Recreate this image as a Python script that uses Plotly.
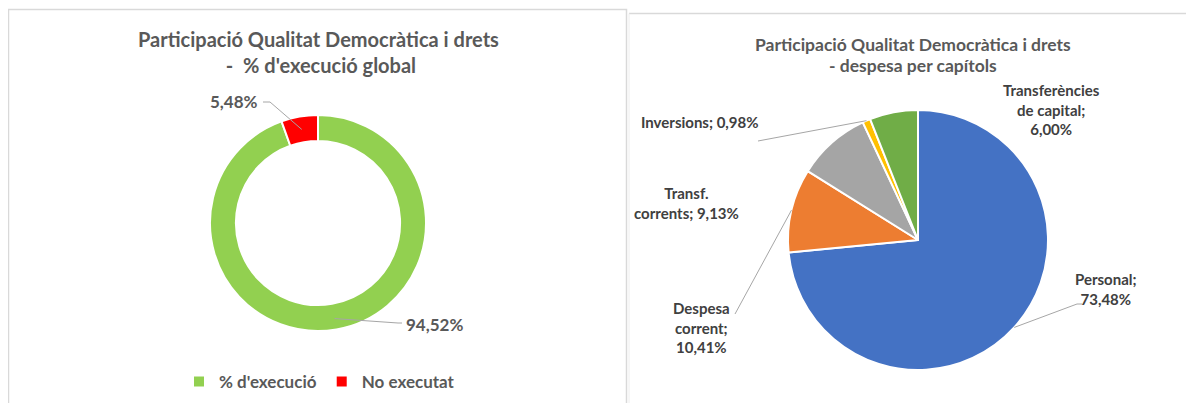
import numpy as np
import plotly.graph_objects as go

W, H = 1194, 403
OFF = 8  # marge del body de la pàgina
FW, FH = W - OFF, H - OFF

# dades gràfic 1 (execució global)
exec_labels = ["% d'execució", "No executat"]
exec_values = [94.52, 5.48]
exec_colors = ["#92D050", "#FF0000"]

# dades gràfic 2 (despesa per capítols)
cap_labels = ["Personal", "Despesa corrent", "Transf. corrents", "Inversions", "Transferències de capital"]
cap_values = [73.48, 10.41, 9.13, 0.98, 6.00]
cap_colors = ["#4472C4", "#ED7D31", "#A5A5A5", "#FFC000", "#70AD47"]


def fmt(v):
    return f"{v:.2f}".replace(".", ",") + "%"


def px(x, y):
    return (x - OFF) / FW, 1 - (y - OFF) / FH


# geometria dels pastissos (en píxels de pantalla)
c1, r1 = (318, 223), 108
c2, r2 = (918, 240), 130


def dom(c, r):
    x0, y1 = px(c[0] - r, c[1] - r)
    x1, y0 = px(c[0] + r, c[1] + r)
    return dict(x=[x0, x1], y=[y0, y1])


def tip_px(values, i, c, r):
    # punt al mig de la porció i (sentit horari des de les 12)
    tot = sum(values)
    mid = (sum(values[:i]) + values[i] / 2) / tot * 2 * np.pi
    return c[0] + r * np.sin(mid), c[1] - r * np.cos(mid)


fig = go.Figure()
fig.add_trace(go.Pie(
    labels=exec_labels, values=exec_values, hole=0.76, sort=False, direction="clockwise",
    marker=dict(colors=exec_colors, line=dict(color="white", width=2)),
    textinfo="none", domain=dom(c1, r1), showlegend=True,
))
fig.add_trace(go.Pie(
    labels=cap_labels, values=cap_values, sort=False, direction="clockwise",
    marker=dict(colors=cap_colors, line=dict(color="white", width=2)),
    textinfo="none", domain=dom(c2, r2), showlegend=False,
))

FONT = "Lato"
grey = "#595959"
lab = "#404040"
ann = []


def text(x, y, s, font):
    tx, ty = px(x, y)
    ann.append(dict(x=tx, y=ty, xref="paper", yref="paper", text=s, showarrow=False,
                    xanchor="center", yanchor="middle", font=font))


# títols
tf1 = dict(size=20, color=grey, family=FONT, weight="bold")
tf2 = dict(size=17.5, color=grey, family=FONT, weight="bold")
text(318, 39, "Participació Qualitat Democràtica i drets", tf1)
text(318, 65, " -  % d'execució global", tf1)
text(913, 44, "Participació Qualitat Democràtica i drets", tf2)
text(913, 65, "- despesa per capítols", tf2)

lf1 = dict(size=17, color=grey, family=FONT, weight="bold")
lf2 = dict(size=15, color=lab, family=FONT, weight="bold")

# etiquetes
text(234, 102, fmt(exec_values[1]), lf1)
text(434, 324, fmt(exec_values[0]), lf1)
text(1106, 289, f"Personal;<br>{fmt(cap_values[0])}", lf2)
text(702, 327, f"Despesa<br>corrent;<br>{fmt(cap_values[1])}", lf2)
text(686, 203, f"Transf.<br>corrents; {fmt(cap_values[2])}", lf2)
text(700, 122, f"Inversions; {fmt(cap_values[3])}", lf2)
text(1051, 109, f"Transferències<br>de capital;<br>{fmt(cap_values[4])}", lf2)

# línies guia: des de l'etiqueta fins al mig de la porció
shapes = []


def leader(pts):
    p = [px(x, y) for x, y in pts]
    path = "M " + " L ".join(f"{x},{y}" for x, y in p)
    shapes.append(dict(type="path", xref="paper", yref="paper", path=path,
                       line=dict(color="#A6A6A6", width=1)))


leader([(263, 102), (270, 102), tip_px(exec_values, 1, c1, 95)])
leader([tip_px(exec_values, 0, c1, 97), (398, 323), (402, 323)])
leader([(758, 141), tip_px(cap_values, 3, c2, r2)])
leader([(735, 314), tip_px(cap_values, 1, c2, r2)])
leader([tip_px(cap_values, 0, c2, r2), (1077, 304), (1082, 304)])

# marcs dels panells
bx0, by1 = px(8.5, 9.5)
bx1, _ = px(626.5, 9.5)
shapes.append(dict(type="rect", xref="paper", yref="paper", x0=bx0, x1=bx1, y0=-0.05, y1=by1,
                   line=dict(color="#D9D9D9", width=1.5)))
rx0, ry = px(629, 13.5)
shapes.append(dict(type="line", xref="paper", yref="paper", x0=rx0, x1=1, y0=ry, y1=ry,
                   line=dict(color="#D9D9D9", width=1.5)))
shapes.append(dict(type="line", xref="paper", yref="paper", x0=rx0, x1=rx0, y0=0, y1=ry,
                   line=dict(color="#EEEEEE", width=1)))

lx, ly = px(179, 382)
fig.update_layout(
    width=FW, height=FH, margin=dict(l=0, r=0, t=0, b=0),
    paper_bgcolor="white", plot_bgcolor="white",
    annotations=ann, shapes=shapes,
    legend=dict(orientation="h", x=lx, y=ly, xanchor="left", yanchor="middle",
                font=dict(size=17, color=grey, family=FONT, weight="bold"), itemwidth=30),
)

fig.write_html("out.html")
